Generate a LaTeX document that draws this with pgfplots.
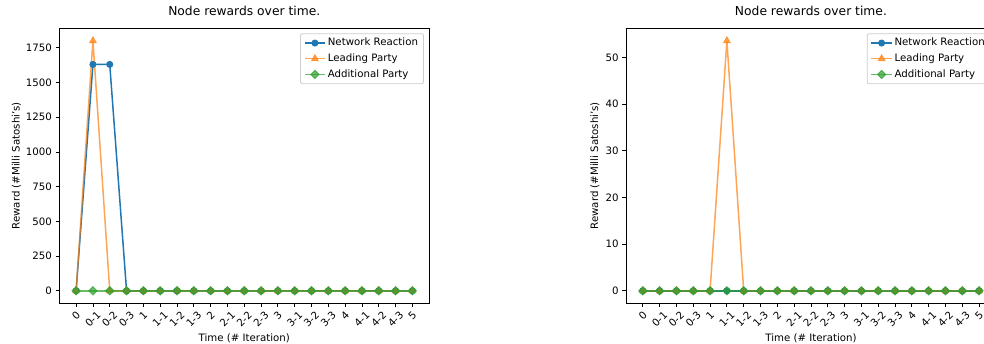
\documentclass[border=0pt]{standalone}
\usepackage{pgfplots}
\pgfplotsset{compat=1.18}
\usepackage{pgfplotstable}
\usepackage{graphicx}
\usepackage{fontspec}
\setmainfont{DejaVu Sans}
\definecolor{c1}{HTML}{1F77B4}
\definecolor{c2}{HTML}{FF7F0E}
\definecolor{c3}{HTML}{2CA02C}
\newcommand\rl[1]{\rotatebox{45}{#1}}
\newcommand\fs{\fontsize{10.2}{12}\selectfont}

\pgfplotstableread{
x nr lp ap
0 0 0 0
1 1630 1800 0
2 1630 0 0
3 0 0 0
4 0 0 0
5 0 0 0
6 0 0 0
7 0 0 0
8 0 0 0
9 0 0 0
10 0 0 0
11 0 0 0
12 0 0 0
13 0 0 0
14 0 0 0
15 0 0 0
16 0 0 0
17 0 0 0
18 0 0 0
19 0 0 0
20 0 0 0
}\tabA

\pgfplotstableread{
x nr lp ap
0 0 0 0
1 0 0 0
2 0 0 0
3 0 0 0
4 0 0 0
5 0 53.6 0
6 0 0 0
7 0 0 0
8 0 0 0
9 0 0 0
10 0 0 0
11 0 0 0
12 0 0 0
13 0 0 0
14 0 0 0
15 0 0 0
16 0 0 0
17 0 0 0
18 0 0 0
19 0 0 0
20 0 0 0
}\tabB

\pgfplotsset{
  mystyle/.style={
    scale only axis, width=369.9pt, height=275pt, anchor=south west,
    xmin=-1, xmax=21, xtick={0,...,20},
    xticklabels={\rl{0},\rl{0-1},\rl{0-2},\rl{0-3},\rl{1},\rl{1-1},\rl{1-2},\rl{1-3},\rl{2},\rl{2-1},\rl{2-2},\rl{2-3},\rl{3},\rl{3-1},\rl{3-2},\rl{3-3},\rl{4},\rl{4-1},\rl{4-2},\rl{4-3},\rl{5}},
    tick align=outside, tick pos=left, major tick length=3.6pt,
    every tick/.style={black, line width=0.8pt},
    axis line style={line width=0.8pt},
    ticklabel style={font=\fs},
    /pgf/number format/assume math mode=true,
    /pgf/number format/1000 sep={},
    xticklabel style={anchor=north, inner sep=0pt, yshift=-3.6pt},
    yticklabel style={anchor=east, inner sep=0pt, xshift=-3.6pt},
    title={Node rewards over time.},
    title style={font=\fontsize{12.3}{14}\selectfont, at={(0.5,1)}, anchor=base, yshift=6.8pt, inner sep=0pt},
    xlabel={Time (\# Iteration)},
    xlabel style={font=\fs, at={(0.5,0)}, anchor=base, yshift=-38.5pt, inner sep=0pt},
    ylabel={Reward (\#Milli Satoshi's)},
    legend cell align=left,
    legend image code/.code={\draw[mark repeat=2,mark phase=2,##1] plot coordinates {(0pt,0pt)(10.2pt,0pt)(20.4pt,0pt)};},
    legend style={font=\fs, at={(1,1)}, anchor=north east, xshift=-5.3pt, yshift=-5pt,
      draw=black!20, line width=0.8pt, rounded corners=2pt, fill=white,
      inner xsep=3.5pt, inner ysep=1.5pt, row sep=0pt,
      nodes={inner xsep=2pt, inner ysep=2.95pt, text height=7.6pt, text depth=2.2pt},
      /tikz/every even column/.append style={column sep=6pt}},
  },
  nrs/.style={c1, line width=1.5pt, mark=*, mark size=3pt, mark options={line width=1pt, fill=c1}},
  lps/.style={c2, opacity=0.7, line width=1.5pt, mark=triangle*, mark size=3.8pt, mark options={line width=1pt, fill=c2}},
  aps/.style={c3, opacity=0.7, line width=1.5pt, mark=square*, mark size=2.9pt, mark options={line width=1pt, fill=c3, rotate=45}},
}

\begin{document}
\begin{tikzpicture}[x=1pt,y=1pt]
\useasboundingbox (0,0) rectangle (984,344);
\clip (0,0) rectangle (984,344);
\begin{axis}[mystyle, at={(59.3pt,40.7pt)}, ymin=-90, ymax=1890, ytick={0,250,...,1750},
  ylabel style={font=\fs, at={(0,0.5)}, anchor=center, yshift=42.8pt, inner sep=0pt}]
\addplot[nrs] table[x=x, y=nr] {\tabA};
\addlegendentry{Network Reaction}
\addplot[lps] table[x=x, y=lp] {\tabA};
\addlegendentry{Leading Party}
\addplot[aps] table[x=x, y=ap] {\tabA};
\addlegendentry{Additional Party}
\end{axis}
\begin{axis}[mystyle, at={(626pt,40.7pt)}, ymin=-2.68, ymax=56.28, ytick={0,10,...,50},
  ylabel style={font=\fs, at={(0,0.5)}, anchor=center, yshift=31pt, inner sep=0pt}]
\addplot[nrs] table[x=x, y=nr] {\tabB};
\addlegendentry{Network Reaction}
\addplot[lps] table[x=x, y=lp] {\tabB};
\addlegendentry{Leading Party}
\addplot[aps] table[x=x, y=ap] {\tabB};
\addlegendentry{Additional Party}
\end{axis}
\end{tikzpicture}
\end{document}
